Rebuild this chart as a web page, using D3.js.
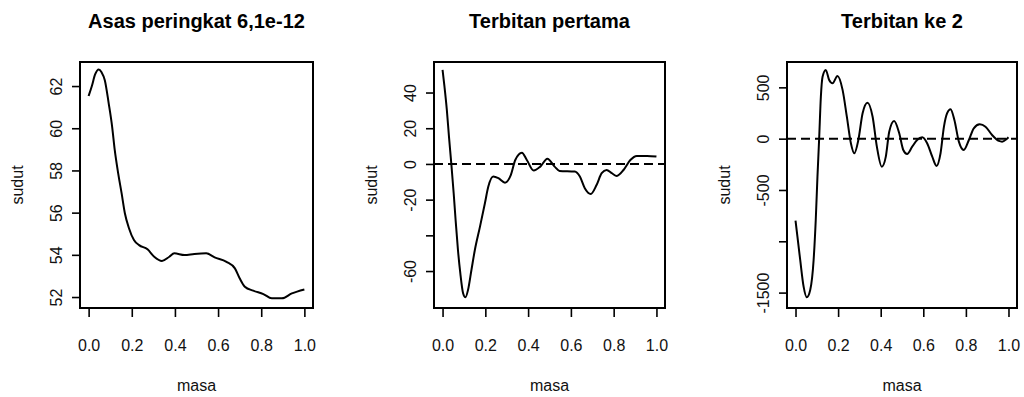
<!DOCTYPE html>
<html>
<head>
<meta charset="utf-8">
<script src="https://cdn.jsdelivr.net/npm/d3@7"></script>
<style>
  body { margin: 0; background: #fff; }
  svg { display: block; font-family: 'Liberation Sans', Arial, sans-serif; }
</style>
</head>
<body>
<div id="chart"></div>
<script>
// panel titles
const titles = ['Asas peringkat 6,1e-12', 'Terbitan pertama', 'Terbitan ke 2'];

const xTicks = [0, 0.2, 0.4, 0.6, 0.8, 1.0];

// smoothed angle
const masa1 = [0, 0.015, 0.03, 0.047, 0.06, 0.075, 0.093, 0.109, 0.121, 0.137, 0.153, 0.168, 0.187,
  0.21, 0.234, 0.273, 0.304, 0.34, 0.374, 0.397, 0.444, 0.49, 0.545, 0.584, 0.639, 0.678, 0.70,
  0.724, 0.763, 0.81, 0.849, 0.896, 0.942, 1.0];
const sudut1 = [61.53, 62.0, 62.55, 62.79, 62.65, 62.28, 61.18, 60.07, 58.97, 57.86, 56.91, 55.97, 55.26,
  54.70, 54.46, 54.26, 53.91, 53.71, 53.91, 54.07, 53.99, 54.04, 54.07, 53.88, 53.67, 53.36, 52.89,
  52.49, 52.30, 52.14, 51.94, 51.94, 52.17, 52.36];

// first derivative
const masa2 = [0, 0.009, 0.02, 0.03, 0.041, 0.052, 0.061, 0.072, 0.083, 0.096, 0.107, 0.119, 0.135,
  0.151, 0.175, 0.198, 0.214, 0.237, 0.261, 0.292, 0.319, 0.34, 0.371, 0.394, 0.426, 0.457, 0.49,
  0.524, 0.547, 0.618, 0.642, 0.665, 0.693, 0.72, 0.744, 0.767, 0.791, 0.815, 0.846, 0.878, 0.908,
  0.956, 1.0];
const sudut2 = [52.7, 43.3, 30.3, 15.3, 0, -16.4, -31.4, -48.2, -61.2, -72.4, -74.7, -70.6, -59.4,
  -48.2, -35.1, -22.0, -12.7, -7.1, -8.0, -10.5, -6.2, 2.2, 6.3, 2.2, -3.7, -1.5, 2.9,
  -1.5, -3.9, -4.3, -7.1, -13.6, -16.8, -11.8, -5.2, -3.4, -5.2, -6.7, -3.4, 2.2, 4.5,
  4.5, 4.1];

// second derivative
const masa3 = [0, 0.009, 0.022, 0.038, 0.053, 0.069, 0.085, 0.095, 0.103, 0.111, 0.119, 0.127, 0.142,
  0.158, 0.174, 0.197, 0.221, 0.241, 0.26, 0.276, 0.295, 0.315, 0.338, 0.362, 0.382, 0.405, 0.424,
  0.44, 0.463, 0.487, 0.506, 0.524, 0.548, 0.571, 0.595, 0.618, 0.642, 0.662, 0.681, 0.697, 0.712,
  0.728, 0.746, 0.767, 0.79, 0.814, 0.837, 0.865, 0.892, 0.923, 0.955, 0.97, 0.99, 1.0];
const sudut3 = [-799, -955, -1182, -1442, -1546, -1475, -1182, -792, -370, 0, 409, 604, 670,
  572, 540, 611, 475, 214, -45, -142, -13, 248, 351, 214, -78, -273, -175,
  68, 172, 53, -110, -149, -78, -13, 13, -45, -175, -266, -142, 117, 248,
  287, 182, -29, -110, -13, 101, 140, 117, 36, -22, -29, -6, 13];

// y axis ticks; R drops labels that would overlap
const yTicks1 = [52, 54, 56, 58, 60, 62];
const yLabels1 = ['52', '54', '56', '58', '60', '62'];
const yTicks2 = [-60, -40, -20, 0, 20, 40];
const yLabels2 = ['-60', '', '-20', '0', '20', '40'];
const yTicks3 = [-1500, -1000, -500, 0, 500];
const yLabels3 = ['-1500', '', '-500', '0', '500'];

const width = 1024, height = 397;

const svg = d3.select('#chart')
  .append('svg')
  .attr('width', width)
  .attr('height', height);

const panels = [
  {left: 80, right: 313, masa: masa1, sudut: sudut1, yDomain: [51.48, 63.14], ticks: yTicks1, labels: yLabels1, zero: false},
  {left: 434, right: 665, masa: masa2, sudut: sudut2, yDomain: [-80.7, 57.1], ticks: yTicks2, labels: yLabels2, zero: true},
  {left: 787, right: 1017, masa: masa3, sudut: sudut3, yDomain: [-1650, 747], ticks: yTicks3, labels: yLabels3, zero: true}
];

const plotTop = 62, plotBottom = 308;

panels.forEach((p, k) => {
  const x = d3.scaleLinear().domain([-0.04, 1.04]).range([p.left, p.right]);
  const y = d3.scaleLinear().domain(p.yDomain).range([plotBottom, plotTop]);
  const g = svg.append('g');

  // title
  g.append('text')
    .attr('x', (p.left + p.right) / 2)
    .attr('y', 28)
    .attr('text-anchor', 'middle')
    .style('font-size', '20px')
    .style('font-weight', 'bold')
    .text(titles[k]);

  // x axis, ticks only from 0 to 1
  const xAxis = g.append('g')
    .attr('transform', 'translate(0,' + plotBottom + ')')
    .call(d3.axisBottom(x).tickValues(xTicks).tickFormat(d3.format('.1f')).tickSize(9).tickPadding(23));
  xAxis.select('.domain')
    .attr('d', 'M' + x(0) + ',0H' + x(1))
    .attr('stroke-width', 1.6);
  xAxis.selectAll('.tick line').attr('stroke-width', 1.6);
  xAxis.selectAll('.tick text')
    .style('font-size', '16px')
    .attr('fill', '#111');

  // y axis, rotated labels like R
  const yAxis = g.append('g')
    .attr('transform', 'translate(' + p.left + ',0)')
    .call(d3.axisLeft(y).tickValues(p.ticks).tickFormat((d, i) => p.labels[i]).tickSize(8));
  yAxis.select('.domain')
    .attr('d', 'M0,' + y(p.ticks[0]) + 'V' + y(p.ticks[p.ticks.length - 1]))
    .attr('stroke-width', 1.6);
  yAxis.selectAll('.tick line').attr('stroke-width', 1.6);
  yAxis.selectAll('.tick text')
    .attr('x', null)
    .attr('dy', null)
    .attr('transform', 'translate(-18,0) rotate(-90)')
    .attr('text-anchor', 'middle')
    .style('font-size', '16px')
    .attr('fill', '#111');

  // axis titles
  g.append('text')
    .attr('x', (p.left + p.right) / 2)
    .attr('y', 391)
    .attr('text-anchor', 'middle')
    .style('font-size', '16px')
    .attr('fill', '#111')
    .text('masa');

  g.append('text')
    .attr('transform', 'translate(' + (p.left - 57) + ',' + ((plotTop + plotBottom) / 2) + ') rotate(-90)')
    .attr('text-anchor', 'middle')
    .style('font-size', '16px')
    .attr('fill', '#111')
    .text('sudut');

  if (p.zero) {
    g.append('line')
      .attr('x1', p.left)
      .attr('x2', p.right)
      .attr('y1', y(0))
      .attr('y2', y(0))
      .attr('stroke', '#000')
      .attr('stroke-width', 2)
      .attr('stroke-dasharray', '9,5');
  }

  const line = d3.line()
    .x((d, i) => x(p.masa[i]))
    .y(d => y(d))
    .curve(d3.curveMonotoneX);

  g.append('path')
    .datum(p.sudut)
    .attr('d', line)
    .attr('fill', 'none')
    .attr('stroke', '#000')
    .attr('stroke-width', 2);

  // plot frame
  g.append('rect')
    .attr('x', p.left)
    .attr('y', plotTop)
    .attr('width', p.right - p.left)
    .attr('height', plotBottom - plotTop)
    .attr('fill', 'none')
    .attr('stroke', '#000')
    .attr('stroke-width', 2);
});
</script>
</body>
</html>
